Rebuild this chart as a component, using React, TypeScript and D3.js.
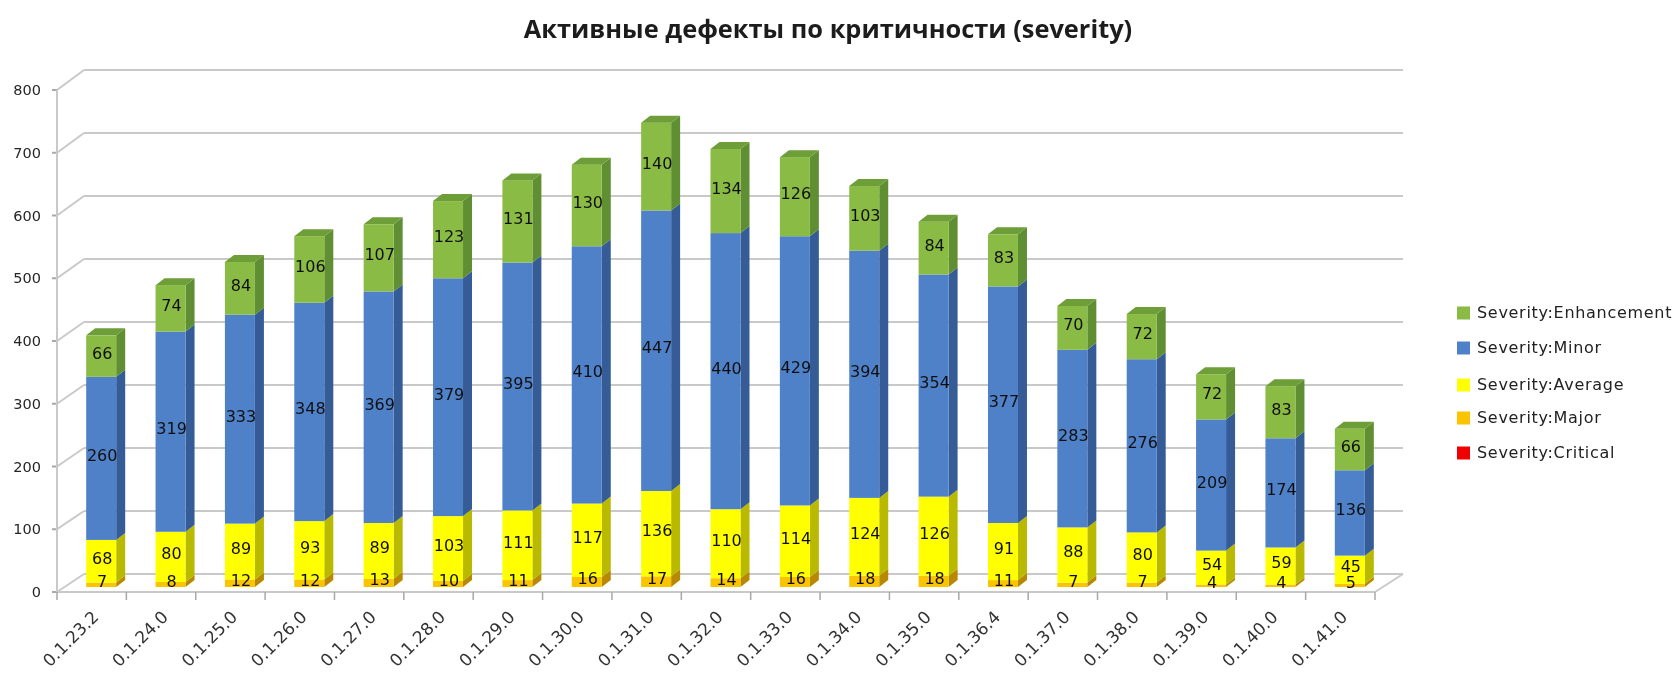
import React from 'react';
import * as d3 from 'd3';

const versions = ['0.1.23.2', '0.1.24.0', '0.1.25.0', '0.1.26.0', '0.1.27.0', '0.1.28.0', '0.1.29.0', '0.1.30.0', '0.1.31.0', '0.1.32.0', '0.1.33.0', '0.1.34.0', '0.1.35.0', '0.1.36.4', '0.1.37.0', '0.1.38.0', '0.1.39.0', '0.1.40.0', '0.1.41.0'];
const critical = [0, 0, 0, 0, 0, 0, 0, 0, 0, 0, 0, 0, 0, 0, 0, 0, 0, 0, 0];
const major = [7, 8, 12, 12, 13, 10, 11, 16, 17, 14, 16, 18, 18, 11, 7, 7, 4, 4, 5];
const average = [68, 80, 89, 93, 89, 103, 111, 117, 136, 110, 114, 124, 126, 91, 88, 80, 54, 59, 45];
const minor = [260, 319, 333, 348, 369, 379, 395, 410, 447, 440, 429, 394, 354, 377, 283, 276, 209, 174, 136];
const enhancement = [66, 74, 84, 106, 107, 123, 131, 130, 140, 134, 126, 103, 84, 83, 70, 72, 72, 83, 66];
const yTicks = [0, 100, 200, 300, 400, 500, 600, 700, 800];

const seriesNames = ['Severity:Critical', 'Severity:Major', 'Severity:Average', 'Severity:Minor', 'Severity:Enhancement'];
const seriesValues = [critical, major, average, minor, enhancement];
const fronts = ['#f00000', '#fbc400', '#ffff00', '#4f81c9', '#8abb45'];
const sides = ['#a00000', '#b88800', '#b9b900', '#345c96', '#5f8f33'];
const tops = ['#c00000', '#d09a00', '#d8d800', '#40699f', '#6e9e38'];
const legendOrder = [4, 3, 2, 1, 0];
const legendY = [313, 348, 385, 418, 453];

const title = 'Активные дефекты по критичности (severity)';
const gridColor = '#c9c9c9';
const font = '"DejaVu Sans", sans-serif';

export default function App() {
  const width = 1679, height = 675;

  // 3d box: front floor edge, back wall is shifted up and right
  const x = d3.scaleBand<string>().domain(versions).range([57, 1375]);
  const yFront = d3.scaleLinear().domain([0, 800]).range([592, 90]);
  const yBack = d3.scaleLinear().domain([0, 800]).range([574, 70]);
  const yBar = d3.scaleLinear().domain([0, 800]).range([587, 85]);
  const backDx = 27;
  const barW = 30, barShift = 9.5, sideDx = 9, sideDy = 7;

  const rows = versions.map((v, i) => {
    const row: Record<string, number | string> = { version: v };
    seriesNames.forEach((s, k) => { row[s] = seriesValues[k][i]; });
    return row;
  });
  const stacked = d3.stack<any>().keys(seriesNames)(rows);

  const xRight = x.range()[1];
  const xLeft = x.range()[0];

  return (
    <svg width={width} height={height} style={{ position: 'absolute', left: 0, top: 0, background: '#fff' }}>
      <defs>
        <filter id="soft" x="-5%" y="-5%" width="110%" height="110%">
          <feGaussianBlur stdDeviation="0.7" />
        </filter>
      </defs>
      <g filter="url(#soft)">
        <text x={828} y={38} textAnchor="middle" fontFamily={'"Open Sans", sans-serif'} fontWeight={700} fontSize={25.4} fill="#1c1c1c">{title}</text>

        {/* walls */}
        {yTicks.map(t => (
          <g key={t} stroke={gridColor} strokeWidth={2} fill="none">
            <line x1={xLeft + backDx} x2={xRight + backDx + 1} y1={yBack(t)} y2={yBack(t)} />
            <line x1={xLeft} x2={xLeft + backDx} y1={yFront(t)} y2={yBack(t)} />
            <line x1={xLeft - 5} x2={xLeft} y1={yFront(t)} y2={yFront(t)} stroke="#a8a8a8" />
          </g>
        ))}
        <line x1={xLeft} x2={xLeft} y1={yFront(800)} y2={yFront(0)} stroke={gridColor} strokeWidth={2} />
        <line x1={xLeft} x2={xRight} y1={yFront(0)} y2={yFront(0)} stroke={gridColor} strokeWidth={2} />
        <line x1={xRight} x2={xRight + backDx + 1} y1={yFront(0)} y2={yBack(0)} stroke={gridColor} strokeWidth={2} />
        {versions.map(v => (
          <line key={v} x1={(x(v) as number) + x.step()} x2={(x(v) as number) + x.step()} y1={yFront(0)} y2={yFront(0) + 8} stroke="#a8a8a8" strokeWidth={1.5} />
        ))}
        <line x1={xLeft} x2={xLeft} y1={yFront(0)} y2={yFront(0) + 8} stroke="#a8a8a8" strokeWidth={1.5} />

        {yTicks.map(t => (
          <text key={t} x={41} y={yFront(t) + 5} textAnchor="end" fontFamily={font} fontSize={14.5} fill="#262626">{t}</text>
        ))}

        {/* bars */}
        {versions.map((v, i) => {
          const x0 = (x(v) as number) + x.bandwidth() / 2 + barShift - barW / 2;
          const x1 = x0 + barW;
          return (
            <g key={v}>
              {stacked.map((layer, k) => {
                const y0 = yBar(layer[i][0]);
                const y1 = yBar(layer[i][1]);
                if (y0 === y1) return null;
                const isTop = k === stacked.length - 1;
                return (
                  <g key={k}>
                    <path d={`M${x1},${y0}L${x1 + sideDx},${y0 - sideDy}L${x1 + sideDx},${y1 - sideDy}L${x1},${y1}Z`} fill={sides[k]} />
                    <rect x={x0} y={y1} width={barW} height={y0 - y1} fill={fronts[k]} />
                    {isTop && <path d={`M${x0},${y1}L${x0 + sideDx},${y1 - sideDy}L${x1 + sideDx},${y1 - sideDy}L${x1},${y1}Z`} fill={tops[k]} />}
                  </g>
                );
              })}
            </g>
          );
        })}

        {/* data labels */}
        {versions.map((v, i) => {
          const cx = (x(v) as number) + x.bandwidth() / 2 + barShift + 1;
          return stacked.map((layer, k) => {
            const val = seriesValues[k][i];
            if (!val) return null;
            const cy = yBar((layer[i][0] + layer[i][1]) / 2) - 3;
            return (
              <text key={k} x={cx} y={cy + 5.5} textAnchor="middle" fontFamily={font} fontSize={16} fill="#111">{val}</text>
            );
          });
        })}

        {/* version labels */}
        {versions.map(v => {
          const px = (x(v) as number) + x.bandwidth() / 2 + 8;
          return (
            <text key={v} transform={`translate(${px},${618}) rotate(-45)`} textAnchor="end" fontFamily={font} fontSize={17} fill="#333">{v}</text>
          );
        })}

        {/* legend */}
        {legendOrder.map((k, n) => (
          <g key={k}>
            <rect x={1457} y={legendY[n] - 6.5} width={13} height={13} fill={fronts[k]} />
            <text x={1477} y={legendY[n] + 5} fontFamily={font} fontSize={16} letterSpacing={0.7} fill="#222">{seriesNames[k]}</text>
          </g>
        ))}
      </g>
    </svg>
  );
}
